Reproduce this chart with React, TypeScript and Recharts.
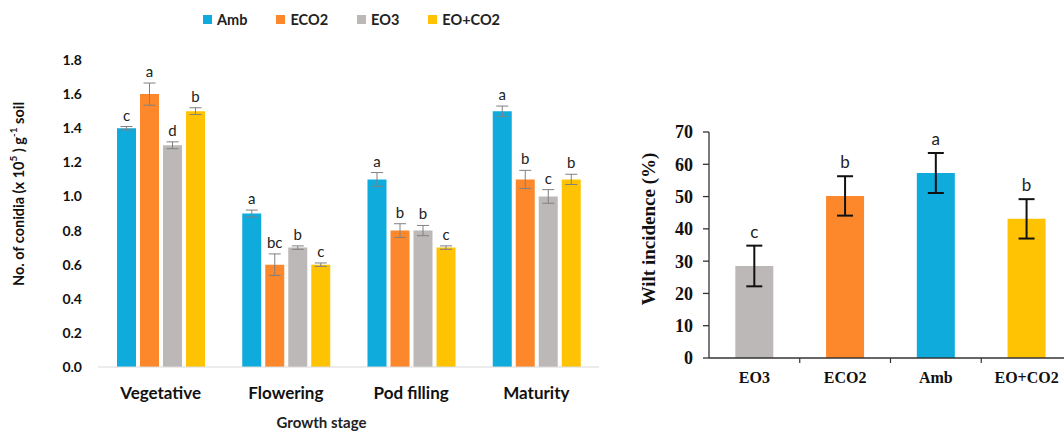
import { BarChart, Bar, XAxis, YAxis, Legend, ErrorBar, LabelList, Label, Cell } from 'recharts';

// left panel: conidia count by growth stage
const stages = ['Vegetative', 'Flowering', 'Pod filling', 'Maturity'];
const amb = [1.4, 0.9, 1.1, 1.5];
const eco2 = [1.6, 0.6, 0.8, 1.1];
const eo3 = [1.3, 0.7, 0.8, 1.0];
const eoco2 = [1.5, 0.6, 0.7, 1.1];
const ambErr = [0.01, 0.02, 0.04, 0.03];
const eco2Err = [0.065, 0.063, 0.04, 0.053];
const eo3Err = [0.02, 0.01, 0.03, 0.04];
const eoco2Err = [0.02, 0.01, 0.01, 0.03];
const ambLetters = ['c', 'a', 'a', 'a'];
const eco2Letters = ['a', 'bc', 'b', 'b'];
const eo3Letters = ['d', 'b', 'b', 'c'];
const eoco2Letters = ['b', 'c', 'c', 'b'];
const conidiaTicks = [0, 0.2, 0.4, 0.6, 0.8, 1.0, 1.2, 1.4, 1.6, 1.8];

// right panel: wilt incidence
const treatments = ['EO3', 'ECO2', 'Amb', 'EO+CO2'];
const wilt = [28.5, 50.2, 57.3, 43.1];
const wiltErr = [6.3, 6.1, 6.2, 6.1];
const wiltLetters = ['c', 'b', 'a', 'b'];
const wiltTicks = [0, 10, 20, 30, 40, 50, 60, 70];

const colors = { Amb: '#0fabdd', ECO2: '#fd882b', EO3: '#bdb8b8', 'EO+CO2': '#ffc303' };
const wiltColors = [colors.EO3, colors.ECO2, colors.Amb, colors['EO+CO2']];

const conidiaData = stages.map((s, i) => ({
  stage: s,
  amb: amb[i], ambErr: ambErr[i],
  eco2: eco2[i], eco2Err: eco2Err[i],
  eo3: eo3[i], eo3Err: eo3Err[i],
  eoco2: eoco2[i], eoco2Err: eoco2Err[i],
}));

const wiltData = treatments.map((t, i) => ({ name: t, wilt: wilt[i], err: wiltErr[i] }));

const SANS = 'Lato, "Open Sans", sans-serif';
const SERIF = '"Liberation Serif", "Times New Roman", serif';

// letter sits above the top of the error bar; pixels per unit taken from the bar itself
const letterLabel = (errs: number[], letters: string[], size: number, gap: number) => (props: any) => {
  const { x, y, width, height, value, index } = props;
  const ppu = value ? Number(height) / Number(value) : 0;
  const top = Number(y) - errs[index] * ppu;
  return (
    <text x={Number(x) + Number(width) / 2} y={top - gap} textAnchor="middle" fontSize={size} fill="#222" fontFamily={SANS}>
      {letters[index]}
    </text>
  );
};

const legendItems = [
  { name: 'Amb', color: colors.Amb },
  { name: 'ECO2', color: colors.ECO2 },
  { name: 'EO3', color: colors.EO3 },
  { name: 'EO+CO2', color: colors['EO+CO2'] },
];

const ConidiaLegend = () => (
  <div style={{ display: 'flex', alignItems: 'center', fontFamily: SANS, fontWeight: 700, fontSize: 14.5, color: '#222' }}>
    {legendItems.map((it) => (
      <div key={it.name} style={{ display: 'flex', alignItems: 'center', marginRight: 29 }}>
        <span style={{ width: 9, height: 9, background: it.color, marginRight: 5, display: 'inline-block' }} />
        <span>{it.name}</span>
      </div>
    ))}
  </div>
);

// category label at the centre, small tick mark at the right edge of each band
const WiltTick = (props: any) => {
  const { x, y, payload, width, visibleTicksCount } = props;
  let off = payload && payload.offset ? payload.offset : 0;
  if (!off && width && visibleTicksCount) off = Number(width) / visibleTicksCount / 2;
  return (
    <g>
      {off ? <line x1={x + off} x2={x + off} y1={y} y2={y + 5} stroke="#333" strokeWidth={1.2} /> : null}
      <text x={x} y={y + 25} textAnchor="middle" fontFamily={SERIF} fontWeight={700} fontSize={16} fill="#111">
        {payload.value}
      </text>
    </g>
  );
};

export default function App() {
  return (
    <div style={{ position: 'fixed', left: 0, top: 0, width: 1064, height: 431, overflow: 'hidden', background: '#fff' }}>
      <div style={{ position: 'absolute', left: 0, top: 0 }}>
        <BarChart
          width={610}
          height={431}
          data={conidiaData}
          margin={{ top: 60, right: 11, left: 38, bottom: 34 }}
          barCategoryGap={19}
          barGap={4}
        >
          <Legend
            verticalAlign="middle"
            align="center"
            layout="horizontal"
            content={() => <ConidiaLegend />}
            wrapperStyle={{ top: 11, left: 203, width: 400 }}
          />
          <XAxis
            dataKey="stage"
            height={30}
            axisLine={{ stroke: '#d9d9d9' }}
            tickLine={false}
            tickMargin={14}
            interval={0}
            tick={{ fontFamily: SANS, fontWeight: 700, fontSize: 17, fill: '#111' }}
          >
            <Label
              content={(p: any) => (
                <text
                  x={p.viewBox.x + p.viewBox.width / 2 - 27}
                  y={428}
                  textAnchor="middle"
                  fontFamily={SANS}
                  fontWeight={700}
                  fontSize={15}
                  fill="#222"
                >
                  Growth stage
                </text>
              )}
            />
          </XAxis>
          <YAxis
            width={60}
            domain={[0, 1.8]}
            ticks={conidiaTicks}
            interval={0}
            axisLine={false}
            tickLine={false}
            tickMargin={10}
            tickFormatter={(v: number) => v.toFixed(1)}
            tick={{ fontFamily: SANS, fontWeight: 700, fontSize: 14, fill: '#111' }}
          >
            <Label
              content={() => (
                <text
                  x={18}
                  y={194}
                  transform="rotate(-90 18 194)"
                  textAnchor="middle"
                  dominantBaseline="central"
                  fontFamily={SANS}
                  fontWeight={700}
                  fontSize={14.5}
                  fill="#111"
                >
                  No.  of conidia (x 10
                  <tspan dy={-5} fontSize={10}>5</tspan>
                  <tspan dy={5}> ) g</tspan>
                  <tspan dy={-5} fontSize={10}>-1</tspan>
                  <tspan dy={5}> soil</tspan>
                </text>
              )}
            />
          </YAxis>
          <Bar dataKey="amb" name="Amb" fill={colors.Amb} isAnimationActive={false}>
            <ErrorBar dataKey="ambErr" width={6} stroke="#808080" strokeWidth={1} />
            <LabelList dataKey="amb" content={letterLabel(ambErr, ambLetters, 15, 6)} />
          </Bar>
          <Bar dataKey="eco2" name="ECO2" fill={colors.ECO2} isAnimationActive={false}>
            <ErrorBar dataKey="eco2Err" width={6} stroke="#808080" strokeWidth={1} />
            <LabelList dataKey="eco2" content={letterLabel(eco2Err, eco2Letters, 15, 6)} />
          </Bar>
          <Bar dataKey="eo3" name="EO3" fill={colors.EO3} isAnimationActive={false}>
            <ErrorBar dataKey="eo3Err" width={6} stroke="#808080" strokeWidth={1} />
            <LabelList dataKey="eo3" content={letterLabel(eo3Err, eo3Letters, 15, 6)} />
          </Bar>
          <Bar dataKey="eoco2" name="EO+CO2" fill={colors['EO+CO2']} isAnimationActive={false}>
            <ErrorBar dataKey="eoco2Err" width={6} stroke="#808080" strokeWidth={1} />
            <LabelList dataKey="eoco2" content={letterLabel(eoco2Err, eoco2Letters, 15, 6)} />
          </Bar>
        </BarChart>
      </div>

      <div style={{ position: 'absolute', left: 610, top: 0 }}>
        <BarChart
          width={470}
          height={431}
          data={wiltData}
          margin={{ top: 132, right: 8, left: 39, bottom: 33 }}
          barCategoryGap="29%"
        >
          <XAxis
            dataKey="name"
            height={40}
            interval={0}
            axisLine={{ stroke: '#333', strokeWidth: 1.3 }}
            tickLine={false}
            tickSize={0}
            tickMargin={0}
            tick={<WiltTick />}
          />
          <YAxis
            width={60}
            domain={[0, 70]}
            ticks={wiltTicks}
            interval={0}
            axisLine={{ stroke: '#333', strokeWidth: 1.3 }}
            tickLine={{ stroke: '#333', strokeWidth: 1.3 }}
            tickSize={6}
            tickMargin={10}
            tick={{ fontFamily: SERIF, fontWeight: 700, fontSize: 18, fill: '#111' }}
          >
            <Label
              content={() => (
                <text
                  x={38}
                  y={229}
                  transform="rotate(-90 38 229)"
                  textAnchor="middle"
                  dominantBaseline="central"
                  fontFamily={SERIF}
                  fontWeight={700}
                  fontSize={19}
                  fill="#111"
                >
                  Wilt incidence (%)
                </text>
              )}
            />
          </YAxis>
          <Bar dataKey="wilt" isAnimationActive={false}>
            {wiltData.map((d, i) => (
              <Cell key={d.name} fill={wiltColors[i]} />
            ))}
            <ErrorBar dataKey="err" width={8} stroke="#111" strokeWidth={2} />
            <LabelList dataKey="wilt" content={letterLabel(wiltErr, wiltLetters, 17, 8)} />
          </Bar>
        </BarChart>
      </div>
    </div>
  );
}
